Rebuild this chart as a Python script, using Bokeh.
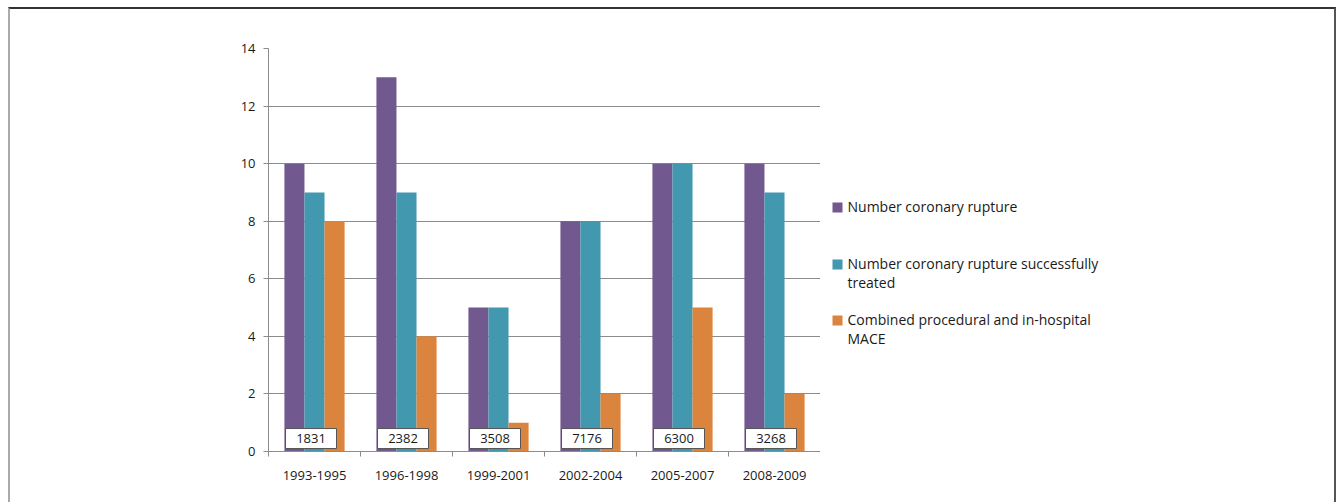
from bokeh.plotting import figure
from bokeh.layouts import row
from bokeh.models import ColumnDataSource, Range1d, FixedTicker, InlineStyleSheet
from bokeh.transform import dodge
from bokeh.core.properties import value
from bokeh.embed import file_html
from bokeh.resources import INLINE

# ---- data ----
periods = ["1993-1995", "1996-1998", "1999-2001", "2002-2004", "2005-2007", "2008-2009"]
coronary_rupture = [10, 13, 5, 8, 10, 10]
rupture_treated = [9, 9, 5, 8, 10, 9]
combined_mace = [8, 4, 1, 2, 5, 2]
patients = ["1831", "2382", "3508", "7176", "6300", "3268"]
series_names = ["Number coronary rupture",
                "Number coronary rupture successfully\ntreated",
                "Combined procedural and in-hospital\nMACE"]
series_colors = ["#71588F", "#4198AF", "#DB843D"]
y_ticks = [0, 2, 4, 6, 8, 10, 12, 14]

FONT = "Open Sans"
TXT = "#1A1A1A"
W, H = 1342, 502
W1 = 820
TOP, BOT = 48, 51

xc = [i + 0.5 for i in range(len(periods))]
src = ColumnDataSource(dict(x=xc, a=coronary_rupture, b=rupture_treated,
                            c=combined_mace, n=patients,
                            ny=[0.45] * len(periods)))

p = figure(width=W1, height=H, output_backend="svg", toolbar_location=None,
           x_range=Range1d(0, len(periods)), y_range=Range1d(0, 14),
           min_border_left=268, min_border_right=0,
           min_border_top=TOP, min_border_bottom=BOT)
p.outline_line_color = None
p.background_fill_color = "white"
p.border_fill_color = "white"

bw = 0.218
for col, off, color in zip(["a", "b", "c"], [-bw, 0, bw], series_colors):
    p.vbar(x=dodge("x", off), top=col, width=bw, source=src,
           fill_color=color, line_color=None)

# count boxes
p.rect(x=dodge("x", -0.038), y="ny", width=51, height=20,
       width_units="screen", height_units="screen", source=src,
       fill_color="white", line_color="#555555", line_width=1)
p.text(x=dodge("x", -0.038), y="ny", text="n", source=src,
       text_align="center", text_baseline="middle",
       text_font=value(FONT), text_font_size="13px", text_color=TXT)

# axes
p.xgrid.grid_line_color = None
p.ygrid.grid_line_color = "#8C8C8C"
p.ygrid.grid_line_width = 1

ya = p.yaxis[0]
ya.ticker = FixedTicker(ticks=y_ticks)
ya.axis_line_color = "#8C8C8C"
ya.major_tick_line_color = "#8C8C8C"
ya.major_tick_out = 5
ya.major_tick_in = 0
ya.minor_tick_line_color = None
ya.major_label_standoff = 8
ya.major_label_text_font = FONT
ya.major_label_text_font_size = "13px"
ya.major_label_text_color = TXT

xa = p.xaxis[0]
xa.ticker = FixedTicker(ticks=xc, minor_ticks=list(range(len(periods) + 1)))
xa.major_label_overrides = {x: lab for x, lab in zip(xc, periods)}
xa.axis_line_color = "#8C8C8C"
xa.major_tick_line_color = None
xa.major_tick_out = 0
xa.major_tick_in = 0
xa.minor_tick_line_color = "#8C8C8C"
xa.minor_tick_out = 5
xa.minor_tick_in = 0
xa.major_label_standoff = 14
xa.major_label_text_font = FONT
xa.major_label_text_font_size = "13px"
xa.major_label_text_color = TXT

# legend panel (pixel-like ranges, layout only)
leg = figure(width=W - W1, height=H, output_backend="svg", toolbar_location=None,
             x_range=Range1d(W1, W), y_range=Range1d(H - BOT, TOP),
             x_axis_type=None, y_axis_type=None,
             min_border_left=0, min_border_right=0,
             min_border_top=TOP, min_border_bottom=BOT)
leg.outline_line_color = None
leg.xgrid.grid_line_color = None
leg.ygrid.grid_line_color = None
leg.background_fill_color = "white"
leg.border_fill_color = "white"

leg_y = [207, 264, 320]
leg_src = ColumnDataSource(dict(name=series_names, color=series_colors,
                                y=leg_y, ty=[v - 11 for v in leg_y]))
leg.rect(x=837, y="y", width=10, height=10, source=leg_src,
         fill_color="color", line_color=None)
leg.text(x=847, y="ty", text="name", source=leg_src,
         text_align="left", text_baseline="top", text_line_height=1.0,
         text_font=value(FONT), text_font_size="14px", text_color=TXT)

css = InlineStyleSheet(css="""
:host { position: relative; }
:host::after {
  content: ""; position: absolute; left: 8px; top: 7px;
  width: 1324px; height: 600px; pointer-events: none;
  border-top: 2px solid #333333; border-left: 2px solid #AAAAAA;
  border-right: 2px solid #555555;
}
""")
layout = row(p, leg, spacing=0, stylesheets=[css])

open("out.html", "w").write(file_html(layout, INLINE))
